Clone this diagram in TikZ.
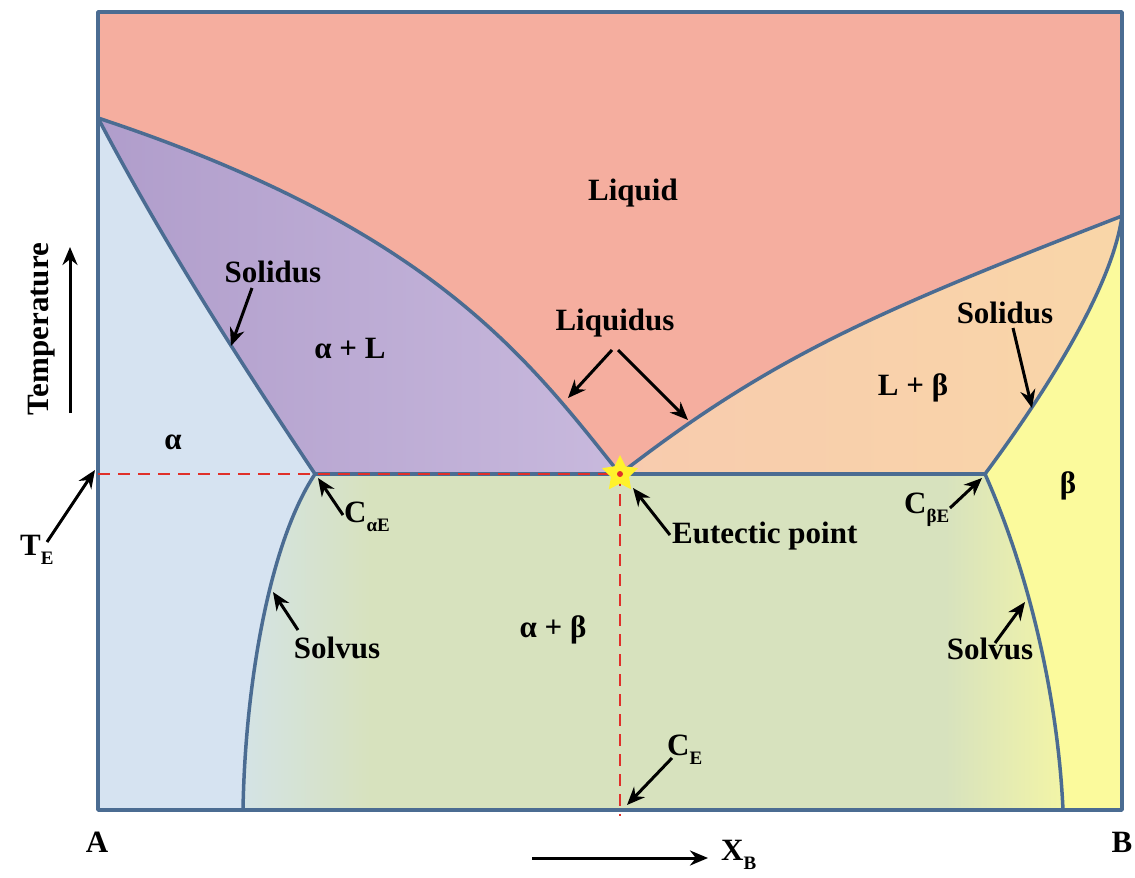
\documentclass[tikz,border=0pt]{standalone}
\usepackage{fontspec}
\setmainfont{Liberation Serif}[BoldFont={Liberation Serif Bold}]
\newfontfamily\tnr{Liberation Serif}[BoldFont={Liberation Serif Bold}]
\usetikzlibrary{arrows.meta,shapes.geometric}
\definecolor{liq}{HTML}{F5AE9F}
\definecolor{alpLa}{HTML}{B09DCB}
\definecolor{alpLb}{HTML}{C8B9DD}
\definecolor{alp}{HTML}{D6E3F1}
\definecolor{ab}{HTML}{D7E2BE}
\definecolor{abl}{HTML}{D4E3E6}
\definecolor{aby}{HTML}{F3F5A6}
\definecolor{Lba}{HTML}{F8CBAE}
\definecolor{Lbb}{HTML}{F9D6A8}
\definecolor{bet}{HTML}{FBFA9C}
\definecolor{ln}{HTML}{4B6C92}
\definecolor{rd}{HTML}{E0302A}
\definecolor{stary}{HTML}{FFF22B}
\newcommand\subs[1]{\raisebox{-0.28em}{\fontsize{19}{19}\selectfont #1}}
\begin{document}
\begin{tikzpicture}[x=1pt,y=-1pt,
  phase/.style={draw=ln,line width=3.5pt,line join=round},
  lbl/.style={font=\tnr\fontsize{31}{34}\selectfont\bfseries,inner sep=0pt},
  arr/.style={draw=black,line width=3pt,-{Stealth[length=18pt,width=15pt]}},
  reddash/.style={draw=rd,line width=2.8pt,dash pattern=on 12pt off 8pt}]
\useasboundingbox (0,0) rectangle (1135,878);
% fills
\fill[liq] (98,12) rectangle (1122,810);
\fill[left color=alpLa,right color=alpLb] (98,118) .. controls (430,228) and (525,355) .. (620,474) -- (620,810) -- (98,810) -- cycle;
\fill[left color=Lba,right color=Lbb] (620,474) .. controls (770,358) and (872,313) .. (1122,216) -- (1122,810) -- (620,810) -- cycle;
\fill[ab] (240,474) rectangle (1066,810);
\shade[left color=abl,right color=ab] (240,474) rectangle (370,810);
\shade[left color=ab,right color=aby] (945,474) rectangle (1066,810);
\fill[alp] (98,118) .. controls (168,251) and (245,369) .. (315,474) .. controls (268,545) and (245,690) .. (243,810) -- (98,810) -- cycle;
\fill[bet] (1122,216) .. controls (1112,290) and (1040,400) .. (985,474) .. controls (1030,575) and (1058,700) .. (1063,810) -- (1122,810) -- cycle;
% phase lines
\draw[phase] (315,474) -- (985,474);
\draw[phase] (98,118) .. controls (430,228) and (525,355) .. (620,474);
\draw[phase] (620,474) .. controls (770,358) and (872,313) .. (1122,216);
\draw[phase] (98,118) .. controls (168,251) and (245,369) .. (315,474);
\draw[phase] (1122,216) .. controls (1112,290) and (1040,400) .. (985,474);
\draw[phase] (315,474) .. controls (268,545) and (245,690) .. (243,810);
\draw[phase] (985,474) .. controls (1030,575) and (1058,700) .. (1063,810);
\draw[phase] (98,12) rectangle (1122,810);
% eutectic construction
\coordinate (TEpt) at (98,474);
\coordinate (CEpt) at (620,816);
\draw[reddash] (TEpt) -- (620,474);
\draw[reddash] (620,474) -- (CEpt);
\node[star,star points=5,star point ratio=2.0,fill=stary,minimum size=38pt,inner sep=0pt] (eut) at (620,474) {};
\fill[rd] (eut.center) circle (3pt);
% labels
\node[lbl] (liquid) at (633,193) {Liquid};
\node[lbl] (aL) at (350,348) {α + L};
\node[lbl] (Lb) at (913,388) {L + β};
\node[lbl] (alpha) at (173,442) {α};
\node[lbl] (beta) at (1068,486) {β};
\node[lbl] (ab) at (553,630) {α + β};
\node[lbl] (solL) at (273,272) {Solidus};
\node[lbl] (solR) at (1005,313) {Solidus};
\node[lbl] (liqus) at (615,323) {Liquidus};
\node[lbl] (svL) at (337,648) {Solvus};
\node[lbl] (svR) at (990,649) {Solvus};
\node[lbl,anchor=west] (eutl) at (672,536) {Eutectic point};
\node[lbl,anchor=west] (CaE) at (344,517) {C\subs{αE}};
\node[lbl,anchor=west] (CbE) at (904,510) {C\subs{βE}};
\node[lbl,anchor=west] (CE) at (667,750) {C\subs{E}};
\node[lbl,anchor=west] (TE) at (20,550) {T\subs{E}};
\node[lbl,anchor=west] (XB) at (721,855) {X\subs{B}};
\node[lbl] (A) at (97,842) {A};
\node[lbl] (B) at (1122,842) {B};
\node[lbl,rotate=90] (temp) at (42,329) {Temperature};
% arrow ends
\coordinate (solLt) at (252,288); \coordinate (solLh) at (231,346);
\coordinate (solRt) at (1013,328); \coordinate (solRh) at (1032,408);
\coordinate (liqAt) at (612,350); \coordinate (liqAh) at (568,398);
\coordinate (liqBt) at (618,350); \coordinate (liqBh) at (688,420);
\coordinate (eutt) at (670,535); \coordinate (euth) at (633,488);
\coordinate (caEt) at (343,515); \coordinate (caEh) at (318,478);
\coordinate (cbEt) at (950,508); \coordinate (cbEh) at (982,478);
\coordinate (svLt) at (298,630); \coordinate (svLh) at (273,592);
\coordinate (svRt) at (995,643); \coordinate (svRh) at (1025,602);
\coordinate (cEt) at (672,758); \coordinate (cEh) at (627,805);
\coordinate (tEt) at (47,542); \coordinate (tEh) at (95,470);
\coordinate (tmpt) at (70,413); \coordinate (tmph) at (70,247);
\coordinate (xbt) at (532,858); \coordinate (xbh) at (708,858);
\draw[arr] (solLt) -- (solLh);
\draw[arr] (solRt) -- (solRh);
\draw[arr] (liqAt) -- (liqAh);
\draw[arr] (liqBt) -- (liqBh);
\draw[arr] (eutt) -- (euth);
\draw[arr] (caEt) -- (caEh);
\draw[arr] (cbEt) -- (cbEh);
\draw[arr] (svLt) -- (svLh);
\draw[arr] (svRt) -- (svRh);
\draw[arr] (cEt) -- (cEh);
\draw[arr] (tEt) -- (tEh);
\draw[arr] (tmpt) -- (tmph);
\draw[arr] (xbt) -- (xbh);
\end{tikzpicture}
\end{document}
